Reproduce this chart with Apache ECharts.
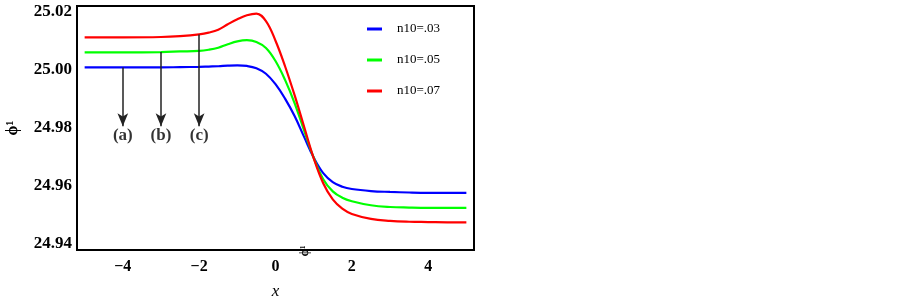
<!DOCTYPE html>
<html>
<head>
<meta charset="utf-8">
<script src="https://cdn.jsdelivr.net/npm/echarts@6/dist/echarts.min.js"></script>
<style>
  html, body { margin: 0; padding: 0; background: #fff; }
  #main { width: 902px; height: 305px; }
</style>
</head>
<body>
<div id="main"></div>
<script>
    var xs = [-5, -4, -3, -2.5, -2, -1.75, -1.5, -1.25, -1, -0.75, -0.5, -0.25, 0, 0.25, 0.5, 0.75, 1, 1.25, 1.5, 1.75, 2, 2.5, 3, 3.5, 4, 4.5, 5];
    var blue = [25.0008, 25.0008, 25.0008, 25.0009, 25.0010, 25.0011, 25.0012, 25.0014, 25.0015, 25.0013, 25.0005, 24.9986, 24.9950, 24.9900, 24.9840, 24.9768, 24.9697, 24.9643, 24.9612, 24.9596, 24.9588, 24.9581, 24.9578, 24.9576, 24.9575, 24.9575, 24.9575];
    var green = [25.0060, 25.0060, 25.0061, 25.0063, 25.0065, 25.0069, 25.0076, 25.0088, 25.0098, 25.0102, 25.0096, 25.0075, 25.0030, 24.9965, 24.9885, 24.9790, 24.9696, 24.9622, 24.9580, 24.9558, 24.9546, 24.9532, 24.9526, 24.9524, 24.9523, 24.9523, 24.9523];
    var red = [25.0112, 25.0112, 25.0113, 25.0116, 25.0122, 25.0128, 25.0138, 25.0157, 25.0174, 25.0188, 25.0194, 25.0168, 25.0100, 25.0012, 24.9912, 24.9803, 24.9695, 24.9608, 24.9552, 24.9520, 24.9502, 24.9485, 24.9478, 24.9475, 24.9474, 24.9473, 24.9473];
    var names = ['n10=.03', 'n10=.05', 'n10=.07'];
    var xTicks = [-4, -2, 0, 2, 4];
    var yTicks = [24.94, 24.96, 24.98, 25.00, 25.02];

    // arrows (a) (b) (c): x, start value, tip value
    var arrowX = [-4, -3, -2];
    var arrowFrom = [25.0008, 25.0061, 25.0122];
    var arrowTo = 24.9805;
    var arrowText = ['(a)', '(b)', '(c)'];
    var arrowTextY = 24.9773;

    function pairs(ys) {
        return xs.map(function (x, i) { return [x, ys[i]]; });
    }

    var serif = '"Liberation Serif", "Times New Roman", serif';
    var myChart = echarts.init(document.getElementById('main'));

    var arrowLines = arrowX.map(function (x, i) {
        return [{ coord: [x, arrowFrom[i]] }, { coord: [x, arrowTo] }];
    });
    var arrowLabels = arrowX.map(function (x, i) {
        return [x, arrowTextY, arrowText[i]];
    });

    function lineSeries(name, ys, color, extra) {
        var s = {
            name: name,
            type: 'line',
            data: pairs(ys),
            smooth: 0.4,
            showSymbol: false,
            lineStyle: { color: color, width: 2.2 },
            itemStyle: { color: color },
            z: 3
        };
        if (extra) s.markLine = extra;
        return s;
    }

    var option = {
        animation: false,
        backgroundColor: '#fff',
        grid: {
            left: 77, top: 6, width: 397, height: 247,
            show: true, borderColor: '#000', borderWidth: 2, backgroundColor: 'transparent'
        },
        legend: {
            data: names,
            orient: 'vertical',
            left: 367, top: 22,
            padding: 0,
            itemGap: 17,
            itemWidth: 15, itemHeight: 3,
            icon: 'rect',
            textStyle: { fontFamily: serif, fontSize: 13, color: '#000', lineHeight: 14, padding: [0, 0, 0, 10] }
        },
        xAxis: {
            type: 'value',
            min: -5.2, max: 5.2,
            name: 'x',
            nameLocation: 'middle',
            nameGap: 33,
            nameTextStyle: { fontFamily: serif, fontStyle: 'italic', fontSize: 17, color: '#000' },
            axisLine: { show: false },
            axisTick: { show: false },
            splitLine: { show: false },
            axisLabel: {
                customValues: xTicks,
                margin: 9,
                fontFamily: serif, fontWeight: 'bold', fontSize: 16, color: '#000',
                formatter: function (v) { return v < 0 ? '\u2212' + Math.abs(v) : String(v); }
            }
        },
        yAxis: {
            type: 'value',
            min: 24.93775, max: 25.0220,
            name: '\u03D5\u00B9',
            nameLocation: 'middle',
            nameRotate: 90,
            nameGap: 56,
            nameTextStyle: { fontFamily: serif, fontWeight: 'bold', fontSize: 16, color: '#000' },
            axisLine: { show: false },
            axisTick: { show: false },
            splitLine: { show: false },
            axisLabel: {
                customValues: yTicks,
                margin: 5,
                fontFamily: serif, fontWeight: 'bold', fontSize: 17, color: '#000',
                formatter: function (v) { return v.toFixed(2); }
            }
        },
        graphic: [{
            type: 'text',
            x: 305, y: 251,
            rotation: Math.PI / 2,
            style: { text: '\u03D5\u00B9', font: 'bold 12px ' + serif, fill: '#000', align: 'center', verticalAlign: 'middle' },
            z: 10
        }],
        series: [
            lineSeries(names[0], blue, '#0000ff', {
                silent: true,
                symbol: ['none', 'arrow'],
                symbolSize: [8, 13],
                label: { show: false },
                lineStyle: { color: '#222', width: 1.5, type: 'solid' },
                data: arrowLines
            }),
            lineSeries(names[1], green, '#00ff00'),
            lineSeries(names[2], red, '#ff0000'),
            {
                name: 'labels',
                type: 'scatter',
                data: arrowLabels,
                symbolSize: 0,
                silent: true,
                label: {
                    show: true,
                    position: 'inside',
                    formatter: function (p) { return p.value[2]; },
                    fontFamily: serif, fontWeight: 'bold', fontSize: 17, color: '#000'
                }
            }
        ]
    };

    myChart.setOption(option);
</script>
</body>
</html>
